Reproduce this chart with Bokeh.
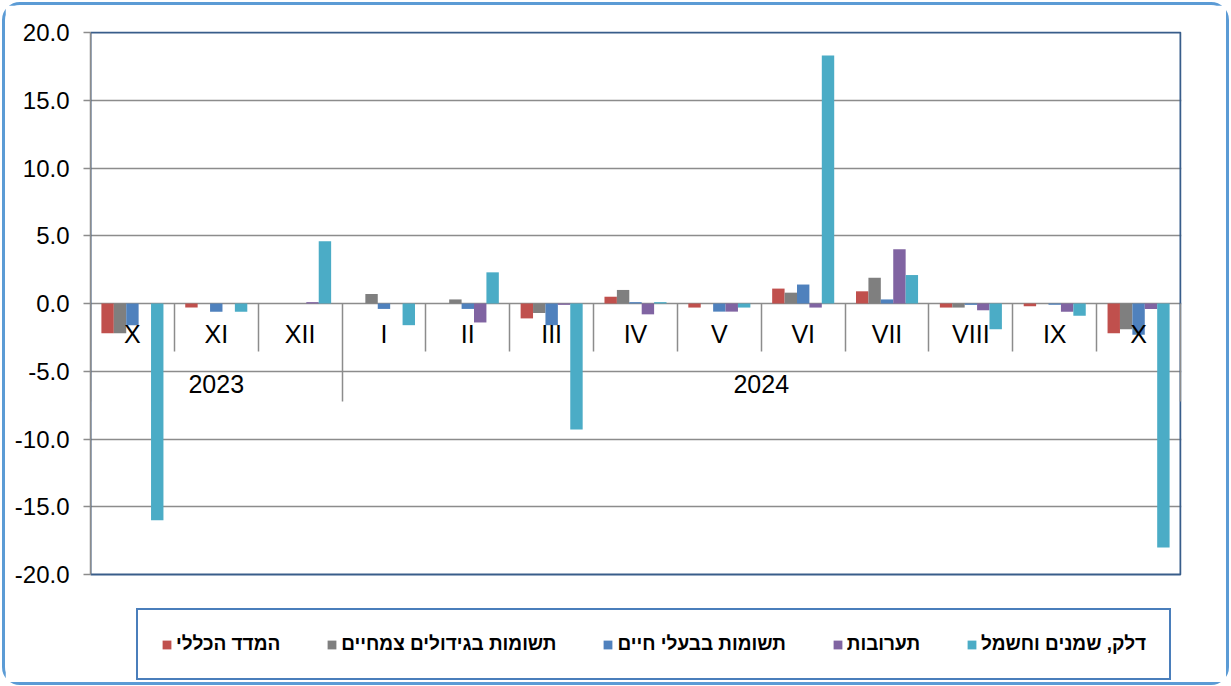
from bokeh.plotting import figure
from bokeh.models import (ColumnDataSource, Range1d, LinearAxis, FixedTicker, BoxAnnotation,
                          NumeralTickFormatter, Legend, LegendItem)
from bokeh.transform import dodge
from bokeh.embed import file_html
from bokeh.resources import INLINE

# ---------------- data ----------------
months = ["X", "XI", "XII", "I", "II", "III", "IV", "V", "VI", "VII", "VIII", "IX", "X"]
years = ["2023", "2023", "2023", "2024", "2024", "2024", "2024", "2024", "2024",
         "2024", "2024", "2024", "2024"]

general = [-2.2, -0.3, 0.0, 0.0, 0.0, -1.1, 0.5, -0.3, 1.1, 0.9, -0.3, -0.2, -2.2]
plants = [-2.2, 0.0, 0.0, 0.7, 0.3, -0.7, 1.0, 0.0, 0.8, 1.9, -0.3, 0.0, -1.9]
animals = [-1.6, -0.6, 0.0, -0.4, -0.4, -1.6, 0.1, -0.6, 1.4, 0.3, -0.1, -0.1, -2.3]
mixtures = [0.0, 0.0, 0.1, 0.0, -1.4, -0.1, -0.8, -0.6, -0.3, 4.0, -0.5, -0.6, -0.4]
fuel = [-16.0, -0.6, 4.6, -1.6, 2.3, -9.3, 0.1, -0.3, 18.3, 2.1, -1.9, -0.9, -18.0]

series_names = ["המדד הכללי", "תשומות בגידולים צמחיים", "תשומות בבעלי חיים",
                "תערובות", "דלק, שמנים וחשמל"]
series_values = [general, plants, animals, mixtures, fuel]
colors = ["#C0504D", "#7F7F7F", "#4F81BD", "#8064A2", "#4BACC6"]

y_ticks = [-20, -15, -10, -5, 0, 5, 10, 15, 20]

# ---------------- layout / styling ----------------
FONT = "Liberation Sans"
GRID = "#8C8C8C"
BORDER = "#385D8A"

W, H = 1227, 683
LEFT, RIGHT, TOP, BOTTOM = 85, 51, 26, 0
PX_PER_UNIT = 542 / 40.0     # pixel scale of the value axis
frame_h = H - TOP - BOTTOM
y_hi = y_ticks[-1] + 1.0 / PX_PER_UNIT          # 1px head-room so the top border shows
y_lo = y_hi - frame_h / PX_PER_UNIT

n = len(months)
x_hi = n + 0.012                                 # ~1px so the right border shows
xc = [i + 0.5 for i in range(n)]
data = dict(xc=xc)
for k, vals in enumerate(series_values):
    data[f"s{k}"] = vals
src = ColumnDataSource(data)

p = figure(width=W, height=H, x_range=Range1d(0, x_hi), y_range=Range1d(y_lo, y_hi),
           output_backend="svg", toolbar_location=None,
           min_border_left=LEFT, min_border_right=RIGHT, min_border_top=TOP,
           min_border_bottom=BOTTOM)
p.styles = {"border": "3px solid #5B9BD5", "border-radius": "18px",
            "margin": "2px -30px -30px 2px"}
p.background_fill_color = "white"
p.border_fill_color = "white"
p.outline_line_color = None

# hide default x axis / grid
p.xaxis.visible = False
p.xgrid.visible = False

# y axis
p.yaxis.ticker = FixedTicker(ticks=y_ticks)
p.yaxis.bounds = (y_ticks[0], y_ticks[-1])
p.yaxis.formatter = NumeralTickFormatter(format="0.0")
p.yaxis.major_label_text_font = FONT
p.yaxis.major_label_text_font_size = "24px"
p.yaxis.major_label_text_color = "black"
p.yaxis.axis_line_color = GRID
p.yaxis.axis_line_width = 1.5
p.yaxis.major_tick_line_color = GRID
p.yaxis.major_tick_line_width = 1.5
p.yaxis.major_tick_out = 7
p.yaxis.major_tick_in = 0
p.yaxis.minor_tick_line_color = None
p.yaxis.major_label_standoff = 14
p.ygrid.ticker = FixedTicker(ticks=y_ticks[1:-1])
p.ygrid.grid_line_color = GRID
p.ygrid.grid_line_width = 1.5

# plot-area border
p.add_layout(BoxAnnotation(left=0, right=n, bottom=y_ticks[0], top=y_ticks[-1],
                           fill_color=None, line_color=BORDER, line_width=2,
                           line_alpha=1, level="underlay"))

# bars
w = 0.148
offsets = [(k - 2) * w for k in range(5)]
renderers = []
for k in range(5):
    r = p.vbar(x=dodge("xc", offsets[k], range=p.x_range), top=f"s{k}", bottom=0,
               width=w, source=src, fill_color=colors[k], line_color=None)
    renderers.append(r)

# category axes anchored at zero
def fixed_axis(ticks, **kw):
    ax = LinearAxis(fixed_location=0, ticker=FixedTicker(ticks=ticks),
                    minor_tick_line_color=None, axis_line_color=None, **kw)
    p.add_layout(ax, "below")
    return ax

# month labels
fixed_axis(xc, major_label_overrides={x: m for x, m in zip(xc, months)},
           major_tick_line_color=None, major_tick_out=0, major_tick_in=0,
           major_label_standoff=16, major_label_text_font=FONT,
           major_label_text_font_size="25px", major_label_text_color="black")

# year labels
uniq = []
for y in years:
    if y not in uniq:
        uniq.append(y)
centers = []
for y in uniq:
    idx = [i for i, yy in enumerate(years) if yy == y]
    centers.append((idx[0] + idx[-1] + 1) / 2)
fixed_axis(centers, major_label_overrides={c: y for c, y in zip(centers, uniq)},
           major_tick_line_color=None, major_tick_out=0, major_tick_in=0,
           major_label_standoff=71, major_label_text_font=FONT,
           major_label_text_font_size="25px", major_label_text_color="black")

# separators
month_bounds = [i for i in range(1, n) if years[i] == years[i - 1]]
year_bounds = [0] + [i for i in range(1, n) if years[i] != years[i - 1]] + [n]
fixed_axis(month_bounds, major_tick_line_color=GRID, major_tick_line_width=1.5,
           major_tick_out=48, major_tick_in=0, major_label_text_color=None)
fixed_axis(year_bounds, major_tick_line_color=GRID, major_tick_line_width=1.5,
           major_tick_out=98, major_tick_in=0, major_label_text_color=None)

# legend (inside the lower part of the frame)
legend = Legend(items=[LegendItem(label=nm, renderers=[r]) for nm, r in zip(series_names, renderers)],
                orientation="horizontal", location=(46, 8),
                border_line_color="#4A7EBB", border_line_width=2, border_line_alpha=1,
                background_fill_color="white", background_fill_alpha=1,
                padding=23, spacing=46, label_standoff=4, glyph_width=11, glyph_height=11,
                margin=0, label_text_font=FONT, label_text_font_size="19px",
                label_text_font_style="bold", label_text_color="black")
p.add_layout(legend)

open("out.html", "w").write(file_html(p, INLINE))
